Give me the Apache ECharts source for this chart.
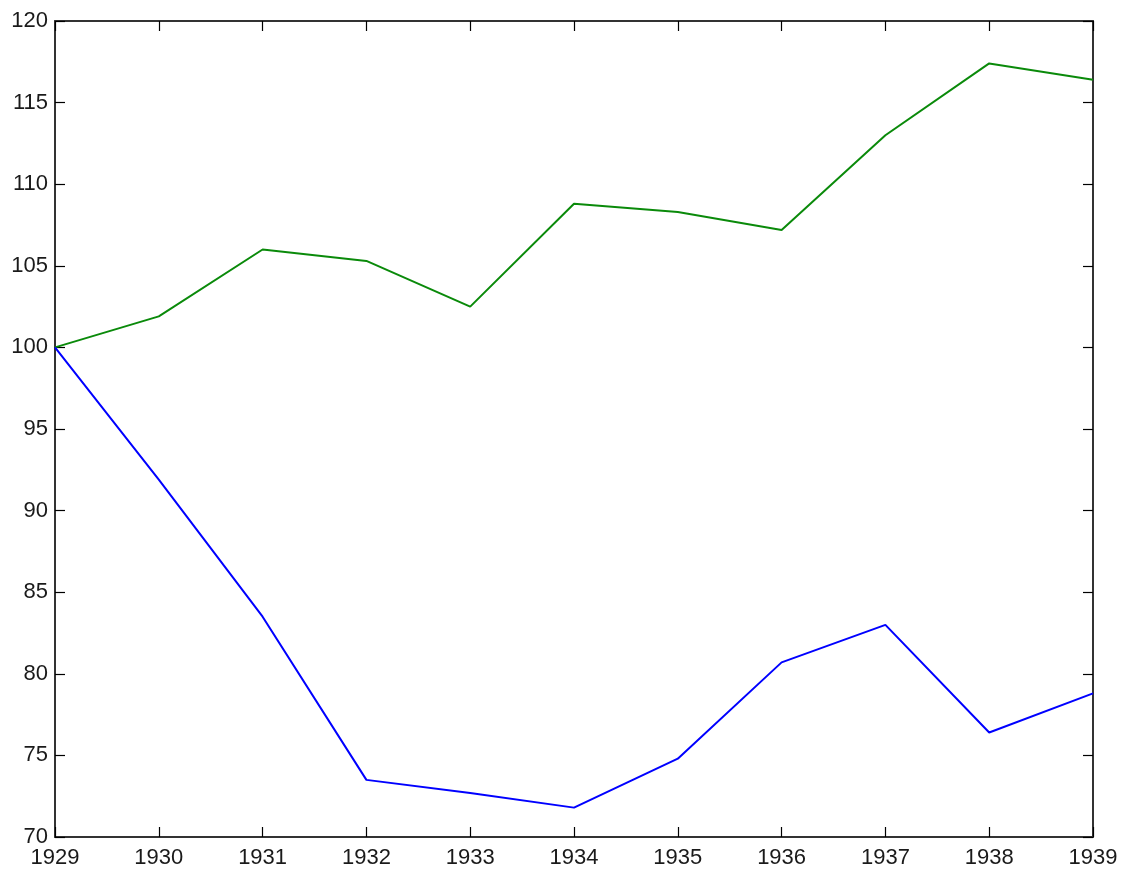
<!DOCTYPE html>
<html>
<head>
<meta charset="utf-8">
<style>
  html, body { margin: 0; padding: 0; background: #fff; }
  #chart { width: 1122px; height: 869px; }
</style>
<script src="https://cdn.jsdelivr.net/npm/echarts@6/dist/echarts.min.js"></script>
</head>
<body>
<div id="chart"></div>
<script>
// Index values, 1929 = 100
const years = [1929, 1930, 1931, 1932, 1933, 1934, 1935, 1936, 1937, 1938, 1939];
const greenSeries = [100, 101.9, 106.0, 105.3, 102.5, 108.8, 108.3, 107.2, 113.0, 117.4, 116.4];
const blueSeries = [100, 91.9, 83.5, 73.5, 72.7, 71.8, 74.8, 80.7, 83.0, 76.4, 78.8];

const yMin = 70, yMax = 120, yStep = 5;
const xMin = 1929, xMax = 1939, xStep = 1;

const pairs = (vals) => years.map((y, i) => [y, vals[i]]);

const font = 'Liberation Sans, Arial, sans-serif';
const lineCol = '#333';

// One side of the boxed frame: ticks point inward on all four sides,
// only the bottom and left sides carry labels.
function boxAxis(pos, isX, showLabels) {
  return {
    type: 'value',
    position: pos,
    min: isX ? xMin : yMin,
    max: isX ? xMax : yMax,
    interval: isX ? xStep : yStep,
    axisLine: { show: true, onZero: false, lineStyle: { color: lineCol, width: 2 } },
    axisTick: { show: true, inside: true, length: 10, lineStyle: { color: '#000', width: 1.2 } },
    splitLine: { show: false },
    axisLabel: {
      show: showLabels,
      color: '#1a1a1a',
      fontFamily: font,
      fontSize: 22,
      margin: isX ? 10 : 7,
      showMinLabel: true,
      showMaxLabel: true,
      formatter: (v) => String(v)
    }
  };
}

const chart = echarts.init(document.getElementById('chart'), null, { renderer: 'canvas' });
chart.setOption({
  animation: false,
  backgroundColor: '#fff',
  grid: { left: 55, right: 29, top: 21, bottom: 31, containLabel: false },
  xAxis: [boxAxis('bottom', true, true), boxAxis('top', true, false)],
  yAxis: [boxAxis('left', false, true), boxAxis('right', false, false)],
  series: [
    {
      type: 'line',
      data: pairs(greenSeries),
      showSymbol: false,
      lineStyle: { color: '#0a8a0a', width: 2 },
      z: 3
    },
    {
      type: 'line',
      data: pairs(blueSeries),
      showSymbol: false,
      lineStyle: { color: '#0000ff', width: 2 },
      z: 3
    }
  ]
});
</script>
</body>
</html>
